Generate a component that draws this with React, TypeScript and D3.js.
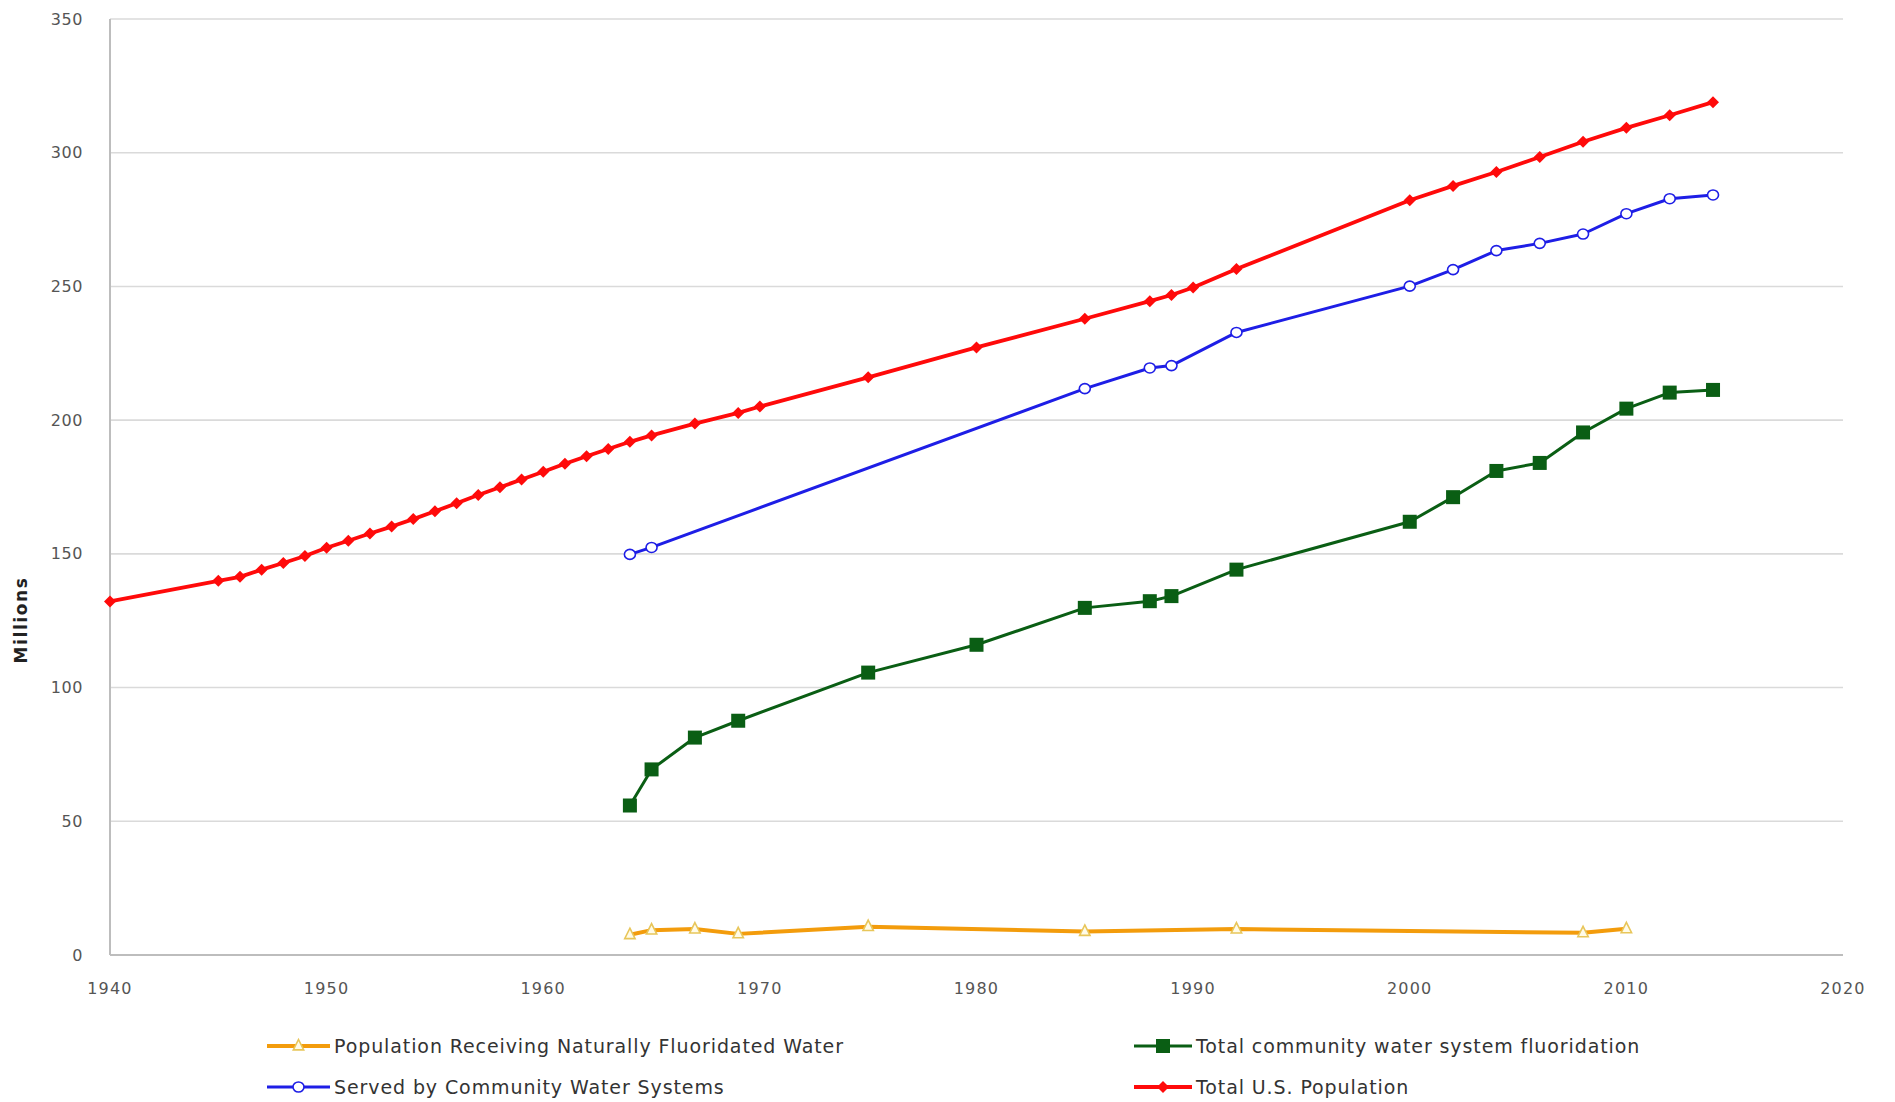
import React, { useEffect } from "react";
import * as d3 from "d3";

const naturalYears = [1964, 1965, 1967, 1969, 1975, 1985, 1992, 2008, 2010];
const naturalValues = [7.6, 9.3, 9.7, 7.9, 10.6, 8.8, 9.7, 8.3, 9.8];

const cwsYears = [1964, 1965, 1985, 1988, 1989, 1992, 2000, 2002, 2004, 2006, 2008, 2010, 2012, 2014];
const cwsValues = [149.8, 152.4, 211.8, 219.5, 220.4, 232.8, 250.1, 256.3, 263.4, 266.1, 269.6, 277.2, 282.8, 284.2];

const fluorYears = [1964, 1965, 1967, 1969, 1975, 1980, 1985, 1988, 1989, 1992, 2000, 2002, 2004, 2006, 2008, 2010, 2012, 2014];
const fluorValues = [55.9, 69.4, 81.3, 87.6, 105.6, 116.0, 129.8, 132.3, 134.2, 144.1, 162.0, 171.2, 181.0, 184.0, 195.4, 204.3, 210.3, 211.3];

const popYears = [1940, 1945, 1946, 1947, 1948, 1949, 1950, 1951, 1952, 1953, 1954, 1955, 1956, 1957, 1958, 1959, 1960, 1961, 1962, 1963, 1964, 1965, 1967, 1969, 1970, 1975, 1980, 1985, 1988, 1989, 1990, 1992, 2000, 2002, 2004, 2006, 2008, 2010, 2012, 2014];
const popValues = [132.2, 139.9, 141.4, 144.1, 146.6, 149.2, 152.3, 154.9, 157.6, 160.2, 163.0, 165.9, 168.9, 172.0, 174.9, 177.8, 180.7, 183.7, 186.5, 189.2, 191.9, 194.3, 198.7, 202.7, 205.1, 216.0, 227.2, 237.9, 244.5, 246.8, 249.6, 256.5, 282.2, 287.6, 292.8, 298.4, 304.1, 309.3, 314.0, 318.9];

const xTicks = [1940, 1950, 1960, 1970, 1980, 1990, 2000, 2010, 2020];
const yTicks = [0, 50, 100, 150, 200, 250, 300, 350];

const legendLabels = [
  "Population Receiving Naturally Fluoridated Water",
  "Total community water system fluoridation",
  "Served by Community Water Systems",
  "Total U.S. Population",
];

const W = 1895;
const H = 1102;
const left = 110;
const right = 1843;
const top = 19;
const bottom = 955;

const FONT = "'DejaVu Sans', Verdana, sans-serif";

type Pt = { x: number; y: number };
const zip = (xs: number[], ys: number[]): Pt[] => xs.map((x, i) => ({ x, y: ys[i] }));

export default function App() {
  useEffect(() => {
    document.body.style.margin = "0";
  }, []);

  const x = d3.scaleLinear().domain([1940, 2020]).range([left, right]);
  const y = d3.scaleLinear().domain([0, 350]).range([bottom, top]);
  const line = d3
    .line<Pt>()
    .x((d) => x(d.x))
    .y((d) => y(d.y));

  const natural = zip(naturalYears, naturalValues);
  const cws = zip(cwsYears, cwsValues);
  const fluor = zip(fluorYears, fluorValues);
  const pop = zip(popYears, popValues);

  const diamond = (cx: number, cy: number, r: number) =>
    `M${cx},${cy - r}L${cx + r},${cy}L${cx},${cy + r}L${cx - r},${cy}Z`;
  const tri = (cx: number, cy: number, r: number) =>
    `M${cx},${cy - r}L${cx + r * 0.8},${cy + r * 0.6}L${cx - r * 0.8},${cy + r * 0.6}Z`;

  const orange = "#F39C0C";
  const orangeMk = "#E8C65A";
  const blue = "#1E1EE6";
  const green = "#0A5E14";
  const red = "#FF0A0A";

  const legendItems = [
    { label: legendLabels[0], x1: 267, x2: 330, y: 1046, kind: "natural" },
    { label: legendLabels[1], x1: 1134, x2: 1192, y: 1046, kind: "fluor" },
    { label: legendLabels[2], x1: 267, x2: 330, y: 1087, kind: "cws" },
    { label: legendLabels[3], x1: 1134, x2: 1192, y: 1087, kind: "pop" },
  ];

  const marker = (kind: string, cx: number, cy: number, key: any) => {
    if (kind === "natural")
      return <path key={key} d={tri(cx, cy, 6.5)} fill="#FFFBE8" stroke={orangeMk} strokeWidth={1.6} />;
    if (kind === "cws")
      return <ellipse key={key} cx={cx} cy={cy} rx={5.5} ry={5} fill="#FFFFFF" stroke={blue} strokeWidth={1.6} />;
    if (kind === "fluor")
      return <rect key={key} x={cx - 7} y={cy - 7} width={14} height={14} fill={green} />;
    return <path key={key} d={diamond(cx, cy, 6)} fill={red} />;
  };
  const colorOf = (kind: string) =>
    kind === "natural" ? orange : kind === "cws" ? blue : kind === "fluor" ? green : red;
  const widthOf = (kind: string) => (kind === "natural" ? 4 : kind === "pop" ? 3.8 : 3);

  const series = [
    { kind: "natural", data: natural },
    { kind: "fluor", data: fluor },
    { kind: "cws", data: cws },
    { kind: "pop", data: pop },
  ];

  return (
    <svg
      width={W}
      height={H}
      style={{ position: "absolute", left: 0, top: 0, background: "#fff" }}
      fontFamily={FONT}
    >
      {yTicks.map((t) => (
        <line key={"g" + t} x1={left} x2={right} y1={y(t)} y2={y(t)} stroke={t === 0 ? "#BDBDBD" : "#DADADA"} strokeWidth={t === 0 ? 2 : 1.6} />
      ))}
      <line x1={left} x2={left} y1={top} y2={bottom} stroke="#BDBDBD" strokeWidth={2} />
      {yTicks.map((t) => (
        <text key={"yl" + t} x={83} y={y(t)} textAnchor="end" dominantBaseline="central" fontSize={16} letterSpacing={0.6} fill="#555">
          {t}
        </text>
      ))}
      {xTicks.map((t) => (
        <text key={"xl" + t} x={x(t)} y={988} textAnchor="middle" dominantBaseline="central" fontSize={16} letterSpacing={1.2} fill="#555">
          {t}
        </text>
      ))}
      <text
        transform={`translate(21,${(top + bottom) / 2 + 133}) rotate(-90)`}
        textAnchor="middle"
        dominantBaseline="central"
        fontSize={17}
        letterSpacing={1.6}
        fontWeight="bold"
        fill="#222"
      >
        Millions
      </text>

      {series.map((s) => (
        <g key={s.kind}>
          <path d={line(s.data) || ""} fill="none" stroke={colorOf(s.kind)} strokeWidth={widthOf(s.kind)} strokeLinejoin="round" />
          {s.data.map((d, i) => marker(s.kind, x(d.x), y(d.y), i))}
        </g>
      ))}

      {legendItems.map((it) => (
        <g key={it.label}>
          <line x1={it.x1} x2={it.x2} y1={it.y} y2={it.y} stroke={colorOf(it.kind)} strokeWidth={widthOf(it.kind)} />
          {marker(it.kind, (it.x1 + it.x2) / 2, it.y, "m")}
          <text x={it.x2 + 4} y={it.y} dominantBaseline="central" fontSize={19} letterSpacing={0.9} fill="#333">
            {it.label}
          </text>
        </g>
      ))}
    </svg>
  );
}
